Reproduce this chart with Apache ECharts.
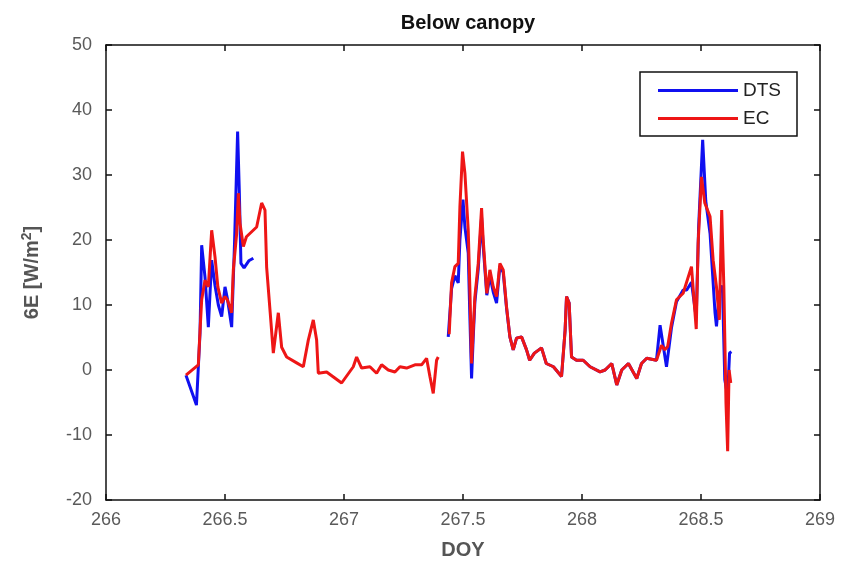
<!DOCTYPE html>
<html>
<head>
<meta charset="utf-8">
<script src="https://cdn.jsdelivr.net/npm/echarts@6/dist/echarts.min.js"></script>
<style>
  html, body { margin: 0; padding: 0; background: #fff; }
  #chart { width: 846px; height: 570px; }
</style>
</head>
<body>
<div id="chart"></div>
<script>
// DOY / value pairs; null marks a gap in the record
const ecDoy = [
  266.336, 266.388, 266.395, 266.402, 266.416, 266.43, 266.444, 266.458, 266.47, 266.486,
  266.5, 266.51, 266.528, 266.535, 266.549, 266.556, 266.563, 266.577, 266.59, 266.633,
  266.654, 266.668, 266.675, 266.69, 266.703, 266.724, 266.738, 266.759, 266.801, 266.829,
  266.85, 266.871, 266.885, 266.892, 266.927, 266.99, 267.039, 267.053, 267.074, 267.109,
  267.137, 267.158, 267.186, 267.214, 267.235, 267.263, 267.298, 267.326, 267.347, 267.361,
  267.375, 267.389, 267.396, 267.42,
  267.442, 267.452, 267.466, 267.48, 267.487, 267.498, 267.508, 267.522, 267.529, 267.536,
  267.543, 267.55, 267.564, 267.578, 267.585, 267.6, 267.613, 267.627, 267.641, 267.655,
  267.669, 267.683, 267.697, 267.711, 267.725, 267.746, 267.767, 267.78, 267.8, 267.83,
  267.85, 267.88, 267.914, 267.929, 267.935, 267.946, 267.956, 267.977, 268.005, 268.034,
  268.076, 268.097, 268.125, 268.146, 268.167, 268.195, 268.23, 268.25, 268.272, 268.313,
  268.334, 268.348, 268.36, 268.376, 268.397, 268.425, 268.46, 268.48, 268.488, 268.502,
  268.516, 268.538, 268.551, 268.565, 268.577, 268.587, 268.596, 268.605, 268.612, 268.618,
  268.625
];
const ecVal = [
  -0.8, 0.8, 6, 10.8, 13.8, 12.8, 21.5, 17.4, 12.8, 10.3,
  11.3, 10.8, 8.8, 15.4, 21, 27.2, 22.6, 19, 20.5, 22,
  25.7, 24.6, 15.8, 8.8, 2.6, 8.8, 3.5, 2, 1.1, 0.5,
  4.6, 7.7, 4.6, -0.5, -0.3, -2, 0.5, 2, 0.3, 0.5,
  -0.5, 0.8, 0, -0.3, 0.5, 0.3, 0.8, 0.8, 1.8, -1,
  -3.6, 1.5, 2, null,
  5.5, 13.4, 15.9, 16.4, 25.1, 33.6, 30.3, 21.5, 12.3, 1.0,
  6.1, 11.3, 16.4, 24.9, 20, 11.8, 15.4, 12.8, 11.3, 16.4,
  15.4, 9.7, 5.1, 3.1, 4.9, 5.1, 3.1, 1.5, 2.6, 3.4,
  1.0, 0.5, -1, 6.1, 11.3, 10.3, 2, 1.5, 1.5, 0.5,
  -0.3, 0, 1.0, -2.3, 0, 1.0, -1.3, 1.0, 1.8, 1.5,
  3.8, 3.1, 3.6, 7.2, 10.8, 11.8, 15.9, 6.3, 19.5, 29.7,
  25.7, 23.6, 16.9, 12.8, 7.7, 24.6, 12.8, -5.1, -12.5, 0,
  -2
];

const dtsDoy = [
  266.336, 266.38, 266.388, 266.395, 266.402, 266.416, 266.43, 266.444, 266.458, 266.472,
  266.486, 266.5, 266.51, 266.528, 266.54, 266.553, 266.56, 266.567, 266.58, 266.6,
  266.619, 267.0,
  267.438, 267.452, 267.466, 267.48, 267.487, 267.5, 267.508, 267.522, 267.529, 267.536,
  267.543, 267.55, 267.564, 267.578, 267.585, 267.6, 267.613, 267.627, 267.641, 267.655,
  267.669, 267.683, 267.697, 267.711, 267.725, 267.746, 267.767, 267.78, 267.8, 267.83,
  267.85, 267.88, 267.914, 267.929, 267.935, 267.946, 267.956, 267.977, 268.005, 268.034,
  268.076, 268.097, 268.125, 268.146, 268.167, 268.195, 268.23, 268.25, 268.272, 268.313,
  268.328, 268.355, 268.376, 268.397, 268.425, 268.44, 268.46, 268.48, 268.49, 268.507,
  268.52, 268.538, 268.559, 268.565, 268.578, 268.59, 268.6, 268.612, 268.62, 268.628
];
const dtsVal = [
  -0.8, -5.4, 0.5, 5.7, 19.2, 14.3, 6.6, 16.9, 13, 10,
  8.2, 12.8, 11, 6.6, 19.5, 36.7, 27.7, 16.4, 15.7, 16.8,
  17.2, null,
  5.1, 12.5, 14.5, 13.4, 20, 26.2, 22, 18, 8, -1.3,
  5, 10.5, 15.5, 23.5, 19, 11.5, 14.5, 12, 10.3, 16,
  15, 9.5, 5.1, 3.1, 4.9, 5.1, 3.1, 1.5, 2.6, 3.4,
  1.0, 0.5, -1, 6.1, 11.3, 10.3, 2, 1.5, 1.5, 0.5,
  -0.3, 0, 1.0, -2.3, 0, 1.0, -1.3, 1.0, 1.8, 1.5,
  6.9, 0.5, 6.5, 10.5, 12.3, 12.3, 13.5, 8, 22, 35.4,
  26, 21, 8.8, 6.7, 12, 13, -1.5, -4, 2.6, 2.8
];

const xTicks = ['266', '266.5', '267', '267.5', '268', '268.5', '269'];
const yTicks = [-20, -10, 0, 10, 20, 30, 40, 50];

const font = 'Liberation Sans';
const pairs = (xs, ys) => xs.map((x, i) => [x, ys[i] === null ? '-' : ys[i]]);

const chart = echarts.init(document.getElementById('chart'));

const boxAxis = {
    axisLine: { show: true, onZero: false, lineStyle: { color: '#111', width: 1.5 } },
    axisTick: { show: true, inside: true, length: 6, lineStyle: { color: '#111', width: 1.5 } },
    splitLine: { show: false }
};

const option = {
    animation: false,
    backgroundColor: '#fff',
    title: {
        text: 'Below canopy',
        left: 463,
        top: 8,
        textAlign: 'center',
        textStyle: { fontFamily: font, fontSize: 20, fontWeight: 'bold', color: '#111' }
    },
    grid: { left: 106, right: 26, top: 45, bottom: 70 },
    legend: {
        data: ['DTS', 'EC'],
        orient: 'vertical',
        right: 49,
        top: 72,
        padding: [9, 16, 8, 18],
        icon: 'rect',
        itemWidth: 80,
        itemHeight: 3,
        itemGap: 9,
        borderColor: '#111',
        borderWidth: 1.5,
        backgroundColor: '#fff',
        textStyle: { fontFamily: font, fontSize: 19, color: '#222', padding: [0, 0, 0, 0] }
    },
    xAxis: [
        Object.assign({
            type: 'value',
            min: 266,
            max: 269,
            interval: 0.5,
            name: 'DOY',
            nameLocation: 'middle',
            nameGap: 40,
            nameTextStyle: { fontFamily: font, fontSize: 20, fontWeight: 'bold', color: '#555' },
            axisLabel: {
                fontFamily: font, fontSize: 18, color: '#5a5a5a', margin: 11,
                formatter: v => xTicks[Math.round((v - 266) * 2)]
            }
        }, boxAxis),
        Object.assign({
            type: 'value', min: 266, max: 269, interval: 0.5, position: 'top',
            axisLabel: { show: false }
        }, boxAxis)
    ],
    yAxis: [
        Object.assign({
            type: 'value',
            min: yTicks[0],
            max: yTicks[yTicks.length - 1],
            interval: 10,
            name: '6E [W/m{sup|2}]',
            nameLocation: 'middle',
            nameGap: 62,
            nameTextStyle: {
                fontFamily: font, fontSize: 20, fontWeight: 'bold', color: '#555',
                rich: { sup: { fontFamily: font, fontSize: 14, fontWeight: 'bold', color: '#555', verticalAlign: 'top', padding: [0, 0, 10, 0] } }
            },
            axisLabel: { fontFamily: font, fontSize: 18, color: '#5a5a5a', margin: 14 }
        }, boxAxis),
        Object.assign({
            type: 'value', min: -20, max: 50, interval: 10, position: 'right',
            axisLabel: { show: false }
        }, boxAxis)
    ],
    series: [
        {
            name: 'DTS',
            type: 'line',
            data: pairs(dtsDoy, dtsVal),
            showSymbol: false,
            symbol: 'none',
            connectNulls: false,
            color: '#1010f0',
            lineStyle: { width: 3, color: '#1010f0' }
        },
        {
            name: 'EC',
            type: 'line',
            data: pairs(ecDoy, ecVal),
            showSymbol: false,
            symbol: 'none',
            connectNulls: false,
            color: '#ee1616',
            lineStyle: { width: 3, color: '#ee1616' }
        }
    ]
};

chart.setOption(option);
</script>
</body>
</html>
